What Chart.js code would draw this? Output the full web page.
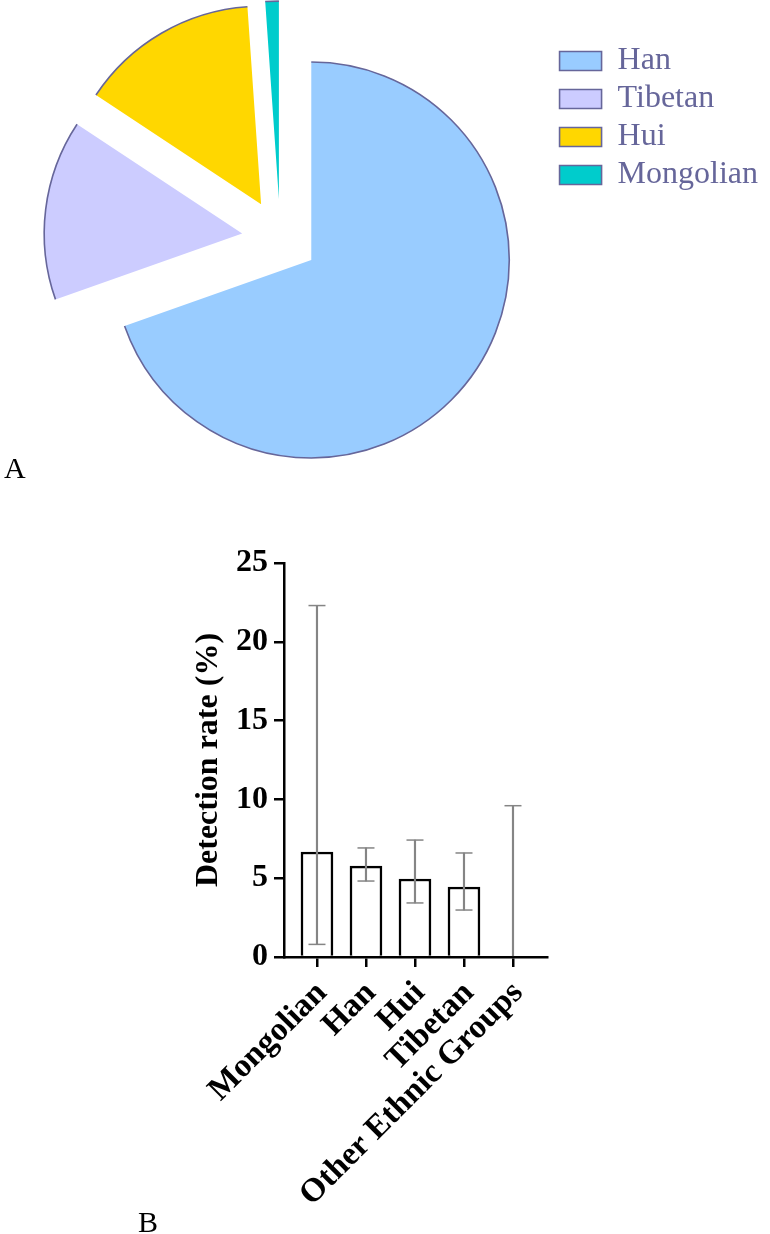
<!DOCTYPE html>
<html>
<head>
<meta charset="utf-8">
<script src="https://cdn.jsdelivr.net/npm/chart.js@4/dist/chart.umd.min.js"></script>
<style>
html,body{margin:0;padding:0;background:#ffffff;}
#wrap{position:relative;width:770px;height:1234px;overflow:hidden;background:#ffffff;}
#pieBox{position:absolute;left:0;top:0;width:770px;height:500px;}
#barBox{position:absolute;left:0;top:500px;width:770px;height:734px;}
.panel{position:absolute;font-family:"Liberation Serif","Times New Roman",serif;font-size:30px;line-height:30px;color:#000;}
</style>
</head>
<body>
<div id="wrap">
  <div id="pieBox"><canvas id="pie"></canvas></div>
  <div id="barBox"><canvas id="bar"></canvas></div>
  <div class="panel" style="left:4px;top:453px;">A</div>
  <div class="panel" style="left:138px;top:1207px;">B</div>
</div>
<script>
// ---- Panel A data ----
const pieLabels = ['Han', 'Tibetan', 'Hui', 'Mongolian'];
const pieShares = [69.6, 14.7, 14.6, 1.1];

// ---- Panel B data ----
const ethnicGroups = ['Mongolian', 'Han', 'Hui', 'Tibetan', 'Other Ethnic Groups'];
const detectionRate = [6.66, 5.77, 4.95, 4.44, 0];
const ciLower = [0.8, 4.82, 3.43, 2.98, 0];
const ciUpper = [22.3, 6.92, 7.42, 6.6, 9.6];
const yTickValues = [0, 5, 10, 15, 20, 25];

// ---- styles ----
const pieColors = ['#99CCFF', '#CCCCFF', '#FFD700', '#00CCCC'];
const pieEdge = '#66669A';
const explodeDistance = [0, 74, 75, 69];   // px, pulled-out slices
const explodeAngle = [0, 291, 318, 332];    // degrees clockwise from 12 o'clock
const serif = 'Liberation Serif';
const errColor = '#858585';

Chart.defaults.font.family = serif;

// Draws pie slices pulled out of the pie, with an outline only on the rim
const explodePlugin = {
  id: 'explodeSlices',
  beforeDatasetDraw(chart, args, opts) {
    const meta = args.meta;
    if (meta.type !== 'pie') return;
    const ctx = chart.ctx;
    meta.data.forEach((arc, i) => {
      const d = opts.distance[i] || 0;
      const a = (opts.angle[i] || 0) * Math.PI / 180;
      ctx.save();
      ctx.translate(d * Math.sin(a), -d * Math.cos(a));
      arc.draw(ctx, chart.chartArea);
      const p = arc.getProps(['x', 'y', 'startAngle', 'endAngle', 'outerRadius'], true);
      ctx.beginPath();
      ctx.arc(p.x, p.y, p.outerRadius, p.startAngle, p.endAngle);
      ctx.strokeStyle = opts.rimColor;
      ctx.lineWidth = opts.rimWidth;
      ctx.stroke();
      ctx.restore();
    });
    return false;
  }
};

new Chart(document.getElementById('pie'), {
  type: 'pie',
  data: {
    labels: pieLabels,
    datasets: [{
      data: pieShares,
      backgroundColor: pieColors,
      borderColor: pieEdge,
      borderWidth: 0
    }]
  },
  plugins: [explodePlugin],
  options: {
    responsive: true,
    maintainAspectRatio: false,
    animation: false,
    radius: 198,
    layout: { padding: { left: 69, right: 2, top: 39, bottom: 19 } },
    plugins: {
      explodeSlices: { distance: explodeDistance, angle: explodeAngle, rimColor: pieEdge, rimWidth: 1.6 },
      legend: {
        position: 'right',
        align: 'start',
        labels: {
          boxWidth: 42,
          boxHeight: 19,
          padding: 6,
          color: pieEdge,
          font: { family: serif, size: 32 },
          generateLabels: chart => Chart.overrides.pie.plugins.legend.labels.generateLabels(chart)
            .map(l => Object.assign(l, { lineWidth: 1.6, strokeStyle: pieEdge }))
        }
      },
      tooltip: { enabled: false }
    }
  }
});

const barPoints = ethnicGroups.map((g, i) => ({ x: i, y: detectionRate[i] }));
const ciPoints = ethnicGroups.map((g, i) => ({ x: i, y: [ciLower[i], ciUpper[i]] }));
const capPoints = ethnicGroups.map((g, i) => ({ x: i, y: ciUpper[i] }))
  .concat(ethnicGroups.map((g, i) => ({ x: i, y: ciLower[i] })).filter(p => p.y > 0));

const boldFont = { family: serif, size: 32, weight: 'bold' };
const xLabelFont = { family: serif, size: 33, weight: 'bold' };

new Chart(document.getElementById('bar'), {
  type: 'bar',
  data: {
    datasets: [
      {
        type: 'bar',
        label: 'Detection rate',
        data: barPoints,
        backgroundColor: '#ffffff',
        borderColor: '#000000',
        borderWidth: 2.5,
        barThickness: 32,
        grouped: false,
        order: 2
      },
      {
        type: 'bar',
        label: '95% CI',
        data: ciPoints,
        backgroundColor: errColor,
        borderWidth: 0,
        barThickness: 1.5,
        grouped: false,
        order: 1
      },
      {
        type: 'scatter',
        label: 'CI caps',
        data: capPoints,
        pointStyle: 'line',
        pointRadius: 8.5,
        pointBorderWidth: 1.5,
        borderColor: errColor,
        backgroundColor: errColor,
        showLine: false,
        order: 0
      }
    ]
  },
  options: {
    responsive: true,
    maintainAspectRatio: false,
    animation: false,
    layout: { padding: { left: 190, top: 63, right: 223, bottom: 0 } },
    plugins: { legend: { display: false }, tooltip: { enabled: false } },
    scales: {
      x: {
        type: 'linear',
        offset: false,
        min: -0.673,
        max: 4.694,
        afterBuildTicks: s => { s.ticks = ethnicGroups.map((g, i) => ({ value: i })); },
        afterFit: s => { s.height = 277; },
        ticks: {
          callback: v => ethnicGroups[v],
          autoSkip: false,
          maxRotation: 45,
          minRotation: 45,
          color: '#000000',
          font: xLabelFont,
          padding: 7,
          labelOffset: 5
        },
        grid: { offset: false, drawOnChartArea: false, drawTicks: true, tickLength: 10, lineWidth: 2.5, color: '#000000' },
        border: { display: true, color: '#000000', width: 2.5 }
      },
      y: {
        min: 0,
        max: 25,
        afterBuildTicks: s => { s.ticks = yTickValues.map(v => ({ value: v })); },
        afterFit: s => { s.width = 94; },
        ticks: { color: '#000000', font: boldFont, padding: 6 },
        grid: { drawOnChartArea: false, drawTicks: true, tickLength: 10, lineWidth: 2.5, color: '#000000' },
        border: { display: true, color: '#000000', width: 2.5 },
        title: { display: true, text: 'Detection rate (%)', color: '#000000', font: boldFont, padding: 0 }
      }
    }
  }
});
</script>
</body>
</html>
